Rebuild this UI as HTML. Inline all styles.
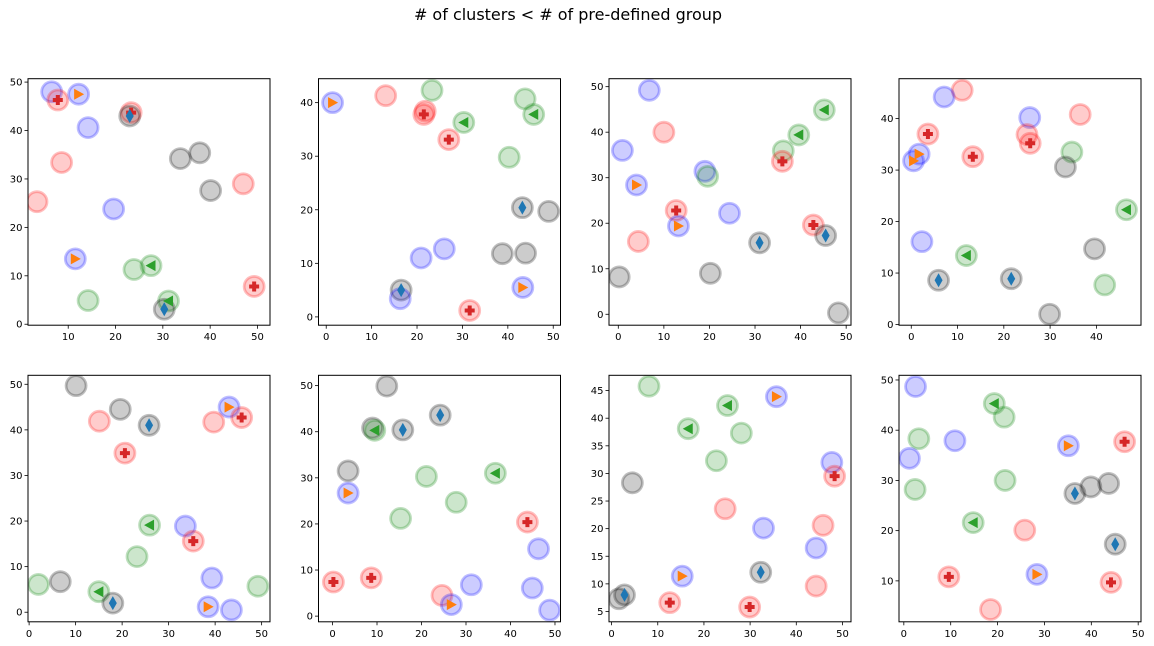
<!DOCTYPE html>
<html><head><meta charset="utf-8"><style>
html,body{margin:0;padding:0;background:#fff;}
svg{display:block;font-family:"DejaVu Sans","Liberation Sans",sans-serif;}
</style></head>
<body>
<svg id="fig" width="1154" height="646" viewBox="0 0 1154 646" xmlns="http://www.w3.org/2000/svg">
<rect width="1154" height="646" fill="#fff"/>
<text x="568" y="20" text-anchor="middle" font-size="16" fill="#000"># of clusters &lt; # of pre-defined group</text>
</svg>
<script>
const panelX = [
 [6.5,7.8,12.2,23.3,23,14.2,8.6,33.7,37.8,40.1,47.0,3.4,19.6,11.5,23.9,27.5,14.2,31.2,30.3,49.3],
 [1.4,13.1,23.3,21.8,21.5,30.3,43.8,45.7,27,40.3,43.2,49,20.9,26,38.8,43.9,16.5,16.3,43.3,31.6],
 [6.8,45.2,10,39.6,0.9,36.2,36,19,19.6,4,12.7,24.4,13.2,42.8,45.5,4.4,31,0.2,20.2,48.3],
 [11,7.1,25.6,36.5,3.6,25,25.7,1.7,0.5,13.3,34.7,33.3,46.5,2.3,11.9,39.6,41.8,5.9,21.6,29.9],
 [10.1,19.6,15.1,25.8,43,45.7,39.7,20.6,25.9,33.6,35.3,23.2,2,6.7,15,18,39.3,38.5,43.5,49.2],
 [12.2,24.2,9,9.5,15.8,3.5,21.1,36.6,3.5,27.8,15.3,43.8,46.3,0.2,8.7,31.2,44.9,48.8,24.6,26.7],
 [8.1,35.7,25.1,16.6,28.1,22.7,47.7,48.3,4.5,24.6,32.9,45.8,44.3,32.3,15.3,44.3,1.6,2.8,12.6,29.9],
 [2.5,19.3,21.4,3.2,10.9,1.2,35.1,47.1,2.4,21.6,36.5,39.9,43.7,14.8,25.8,45.1,9.6,28.4,44.2,18.5]
];
const panelY = [
 [48,46.3,47.5,43.7,43,40.6,33.4,34.2,35.4,27.6,29.0,25.3,23.8,13.5,11.3,12.1,4.9,4.8,3.1,7.8],
 [40,41.3,42.3,38.4,37.8,36.3,40.7,37.8,33.1,29.8,20.4,19.7,11,12.7,11.8,11.9,5,3.4,5.5,1.2],
 [49.2,44.9,40,39.4,36,35.9,33.6,31.4,30.3,28.4,22.8,22.2,19.4,19.6,17.3,16,15.7,8.2,9,0.3],
 [45.5,44.2,40.2,40.8,37,36.9,35.2,33.1,31.8,32.6,33.5,30.6,22.3,16.1,13.4,14.7,7.7,8.6,8.9,2],
 [49.7,44.5,41.9,41,45,42.7,41.7,34.9,19.1,18.9,15.6,12.2,6.1,6.7,4.5,2,7.5,1.2,0.5,5.7],
 [49.9,43.6,40.8,40.3,40.4,31.5,30.3,31,26.7,24.7,21.2,20.4,14.6,7.4,8.3,6.8,6.1,1.3,4.5,2.5],
 [45.8,43.9,42.3,38.1,37.3,32.3,32,29.5,28.3,23.6,20.1,20.6,16.5,12.1,11.4,9.6,7.3,8,6.6,5.8],
 [48.7,45.3,42.6,38.3,37.9,34.4,36.9,37.7,28.2,30,27.4,28.7,29.4,21.6,20.1,17.3,10.8,11.3,9.7,4.3]
];
const panelColor = [
 ["b","r","b","r","k","b","r","k","k","k","r","r","b","b","g","g","g","g","k","r"],
 ["b","r","g","r","r","g","g","g","r","g","k","k","b","b","k","k","k","b","b","r"],
 ["b","g","r","g","b","g","r","b","g","b","r","b","b","r","k","r","k","k","k","k"],
 ["r","b","b","r","r","r","r","b","b","r","g","k","g","b","g","k","g","k","k","k"],
 ["k","k","r","k","b","r","r","r","g","b","r","g","g","k","g","k","b","b","b","g"],
 ["k","k","k","g","k","k","g","g","b","g","g","r","b","r","r","b","b","b","r","b"],
 ["g","b","g","g","g","g","b","r","k","r","b","r","b","k","b","r","k","k","r","r"],
 ["b","g","g","g","b","b","b","r","g","g","k","k","k","g","r","k","r","b","r","r"]
];
const panelMarker = [
 ["","P",">","P","d","","","","","","","","",">","","<","","<","d","P"],
 [">","","","","P","<","","<","P","","d","","","","","","d","",">","P"],
 ["","<","","<","","","P","","",">","P","",">","P","d","","d","","",""],
 ["","","","","P","","P",">",">","P","","","<","","<","","","d","d",""],
 ["","","","d",">","P","","P","<","","P","","","","<","d","",">","",""],
 ["","d","","<","d","","","<",">","","","P","","P","P","","","","",">"],
 ["",">","<","<","","","","P","","","","","","d",">","","","d","P","P"],
 ["","<","","","","",">","P","","","d","","","<","","d","P",">","P",""]
];
const xLim = [[1.5,52.65],[-1.7,51.6],[-2.04,51.06],[-2.65,49.64],[-0.24,51.8],[-3.15,51.24],[-0.56,51.85],[-1.03,50.6]];
const yLim = [[-0.2,50.7],[-1.55,44.47],[-2.4,51.75],[-0.13,47.75],[-2.1,51.97],[-1.23,52.24],[3.13,47.77],[1.85,50.93]];
const xTicks = [[10,20,30,40,50],[0,10,20,30,40,50],[0,10,20,30,40,50],[0,10,20,30,40],[0,10,20,30,40,50],[0,10,20,30,40,50],[0,10,20,30,40,50],[0,10,20,30,40,50]];
const yTicks = [[0,10,20,30,40,50],[0,10,20,30,40],[0,10,20,30,40,50],[0,10,20,30,40],[0,10,20,30,40,50],[0,10,20,30,40,50],[5,10,15,20,25,30,35,40,45],[10,20,30,40,50]];

const NS = "http://www.w3.org/2000/svg";
const fig = document.getElementById("fig");
const colLeft = [28, 318.5, 609, 899];
const rowTop = [78.7, 375.3];
const AW = 242, AH = 246.5;
const fillCol = {b:"#0000ff", r:"#ff0000", g:"#008000", k:"#000000"};
function mk(tag, attrs, parent){
  const e = document.createElementNS(NS, tag);
  for (const k in attrs) e.setAttribute(k, attrs[k]);
  parent.appendChild(e);
  return e;
}
for (let p = 0; p < 8; p++) {
  const L = colLeft[p % 4], T = rowTop[Math.floor(p / 4)];
  const sx = v => L + (v - xLim[p][0]) / (xLim[p][1] - xLim[p][0]) * AW;
  const sy = v => T + AH - (v - yLim[p][0]) / (yLim[p][1] - yLim[p][0]) * AH;
  const g = mk("g", {}, fig);
  
  
  const cid = "clip" + p;
  const cp = mk("clipPath", {id: cid}, g);
  mk("rect", {x: L, y: T, width: AW, height: AH}, cp);
  const plot = mk("g", {"clip-path": "url(#" + cid + ")"}, g);
  for (let i = 0; i < panelX[p].length; i++) {
    const c = mk("circle", {cx: sx(panelX[p][i]), cy: sy(panelY[p][i]), r: 10,
      fill: fillCol[panelColor[p][i]], "fill-opacity": 0.2,
      stroke: fillCol[panelColor[p][i]], "stroke-opacity": 0.25, "stroke-width": 2.8}, plot);
    
    
  }
  for (let i = 0; i < panelX[p].length; i++) {
    const m = panelMarker[p][i];
    if (!m) continue;
    const x = sx(panelX[p][i]), y = sy(panelY[p][i]);
    let e;
    if (m === ">") e = mk("polygon", {points: `${x-4.5},${y-5.5} ${x-4.5},${y+5.5} ${x+5.5},${y}`, fill: "#ff7f0e"}, plot);
    else if (m === "<") e = mk("polygon", {points: `${x+4.5},${y-5.5} ${x+4.5},${y+5.5} ${x-5.5},${y}`, fill: "#2ca02c"}, plot);
    else if (m === "d") e = mk("polygon", {points: `${x},${y-7} ${x+4},${y} ${x},${y+7} ${x-4},${y}`, fill: "#1f77b4"}, plot);
    else if (m === "P") e = mk("path", {d: `M${x-2},${y-5}h4v3h3v4h-3v3h-4v-3h-3v-4h3z`, fill: "#d62728"}, plot);
    
    
  }
  const fr = mk("rect", {x: L, y: T, width: AW, height: AH, fill: "none", stroke: "#000", "stroke-width": 1}, g);
  
  
  for (const t of xTicks[p]) {
    const x = sx(t);
    mk("line", {x1: x, x2: x, y1: T + AH, y2: T + AH + 3.5, stroke: "#000", "stroke-width": 0.8}, g);
    const tx = mk("text", {x: x, y: T + AH + 15, "text-anchor": "middle", "font-size": 10, fill: "#000"}, g);
    tx.textContent = t;
    
    
  }
  for (const t of yTicks[p]) {
    const y = sy(t);
    mk("line", {x1: L - 3.5, x2: L, y1: y, y2: y, stroke: "#000", "stroke-width": 0.8}, g);
    const ty = mk("text", {x: L - 5.5, y: y + 3.5, "text-anchor": "end", "font-size": 10, fill: "#000"}, g);
    ty.textContent = t;
    
    
  }
}
</script>
</body></html>
